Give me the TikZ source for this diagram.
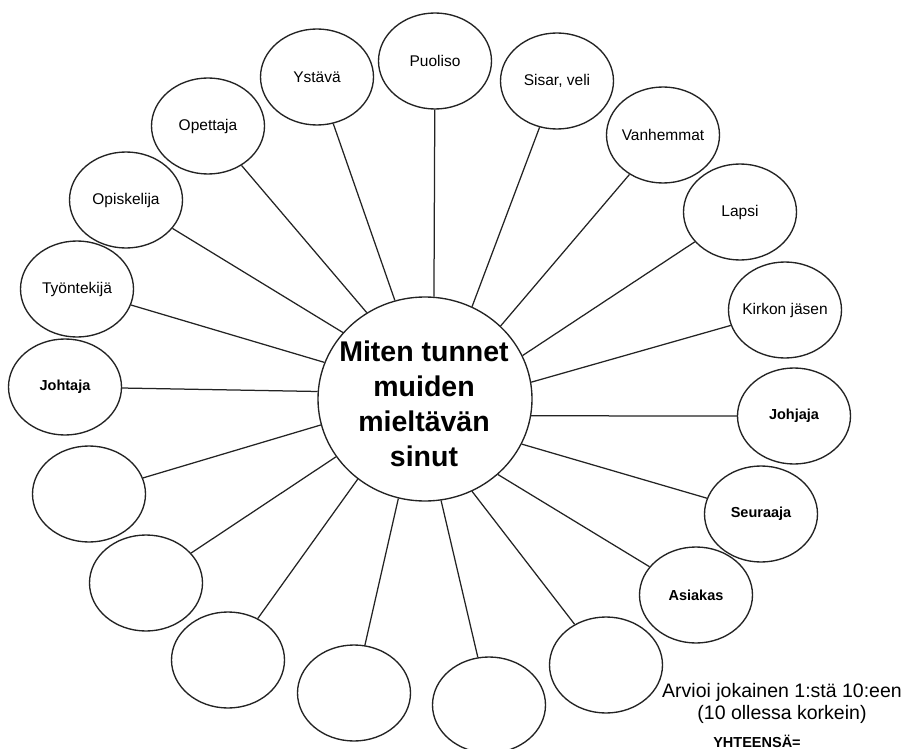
\documentclass[tikz,border=0pt]{standalone}
\usepackage{fontspec}
\setmainfont{Liberation Sans}
\usetikzlibrary{shapes.geometric}
\definecolor{lineink}{RGB}{35,35,35}
\tikzset{
  hub/.style={ellipse, draw=lineink, line width=1.35pt, minimum width=214pt, minimum height=204pt, inner sep=0pt},
  hubtxt/.style={align=center, inner sep=0pt, font=\fontsize{28.5}{35}\selectfont\bfseries},
  role/.style={ellipse, draw=lineink, line width=1.35pt, minimum width=113pt, minimum height=96pt,
    inner xsep=-6pt, inner ysep=0pt, font=\fontsize{15.5}{18}\selectfont},
  rolebf/.style={role, font=\fontsize{14.5}{17}\selectfont\bfseries},
  spoke/.style={lineink, line width=1.25pt},
  note/.style={align=center, inner sep=0pt, font=\fontsize{19.5}{22}\selectfont},
  sumtxt/.style={inner sep=0pt, anchor=base, font=\fontsize{14.5}{17}\selectfont\bfseries},
}
\begin{document}
\begin{tikzpicture}[x=1pt, y=-1pt]
\useasboundingbox (0,0) rectangle (905,749);
%---- center
\node[hub] (hub) at (425,399) {};
\node[hubtxt] (hubtext) at (424,404) {Miten tunnet\\muiden\\mieltävän\\sinut};
%---- roles, clockwise from the top
\node[role] (puoliso) at (435,61) {Puoliso};
\node[role] (sisar) at (557,81) {Sisar, veli};
\node[role] (vanhemmat) at (663,135) {Vanhemmat};
\node[role] (lapsi) at (740,212) {Lapsi};
\node[role] (kirkko) at (785,310) {Kirkon jäsen};
\node[rolebf] (johjaja) at (794,416) {Johjaja};
\node[rolebf] (seuraaja) at (761,514) {Seuraaja};
\node[rolebf] (asiakas) at (696,595) {Asiakas};
\node[role] (blank1) at (606,665) {};
\node[role] (blank2) at (489,705) {};
\node[role] (blank3) at (354,693) {};
\node[role] (blank4) at (228,660) {};
\node[role] (blank5) at (146,583) {};
\node[role] (blank6) at (89,494) {};
\node[rolebf] (johtaja) at (65,387) {Johtaja};
\node[role] (tyontekija) at (77,289) {Työntekijä};
\node[role] (opiskelija) at (126,200) {Opiskelija};
\node[role] (opettaja) at (208,126) {Opettaja};
\node[role] (ystava) at (317,77) {Ystävä};
%---- spokes
\draw[spoke] (hub.85) -- (puoliso);
\draw[spoke] (hub.63.7) -- (sisar);
\draw[spoke] (hub.44.3) -- (vanhemmat);
\draw[spoke] (hub.24.3) -- (lapsi);
\draw[spoke] (hub.9) -- (kirkko);
\draw[spoke] (hub.351.5) -- (johjaja);
\draw[spoke] (hub.335.6) -- (seuraaja);
\draw[spoke] (hub.314.6) -- (asiakas);
\draw[spoke] (hub.297) -- (blank1);
\draw[spoke] (hub.279.6) -- (blank2);
\draw[spoke] (hub.255) -- (blank3);
\draw[spoke] (hub.230.4) -- (blank4);
\draw[spoke] (hub.213.4) -- (blank5);
\draw[spoke] (hub.194.9) -- (blank6);
\draw[spoke] (hub.176.3) -- (johtaja);
\draw[spoke] (hub.160.6) -- (tyontekija);
\draw[spoke] (hub.141.6) -- (opiskelija);
\draw[spoke] (hub.124.7) -- (opettaja);
\draw[spoke] (hub.107.6) -- (ystava);
%---- scoring note
\node[note] (rating) at (782,703) {Arvioi jokainen 1:stä 10:een\\(10 ollessa korkein)};
\node[sumtxt] (total) at (757,747) {YHTEENSÄ=};
\end{tikzpicture}
\end{document}
